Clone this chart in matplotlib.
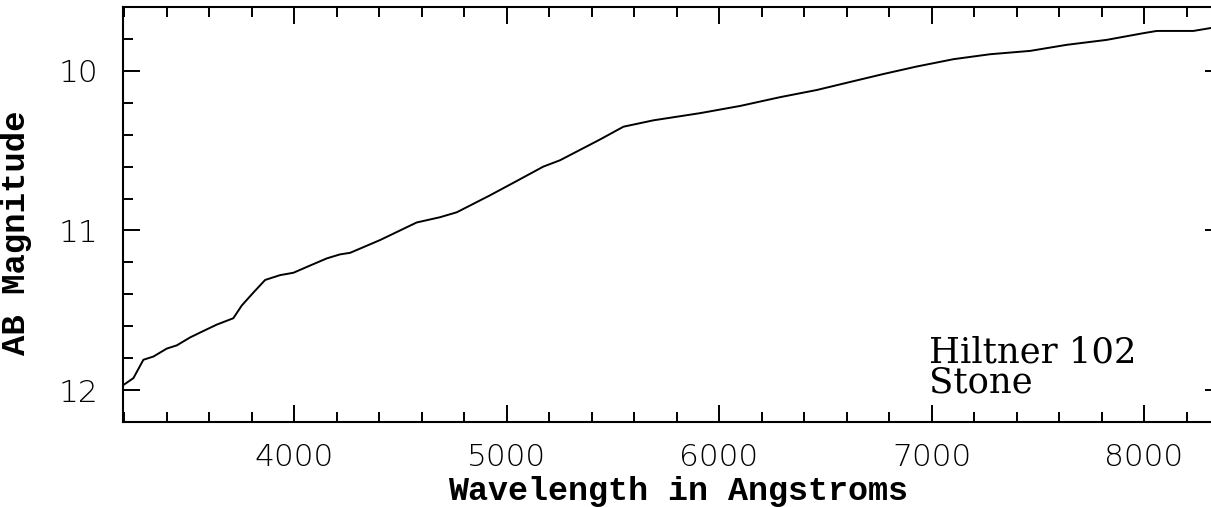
#!/usr/bin/env python3
"""
Hiltner 102 (Stone) spectrophotometric standard: AB magnitude vs wavelength.
"""

import matplotlib
matplotlib.use("Agg")
import matplotlib.pyplot as plt
from matplotlib.ticker import MultipleLocator

# =============================================================================
# Data
# =============================================================================

WAVELENGTH = [
    3195, 3244, 3291, 3338, 3401, 3448, 3511, 3573, 3636, 3714,
    3754, 3808, 3864, 3934, 3997, 4075, 4154, 4216, 4264, 4405,
    4577, 4687, 4766, 4922, 5048, 5173, 5252, 5440, 5550, 5691,
    5911, 6099, 6287, 6460, 6616, 6773, 6930, 7103, 7275, 7464,
    7636, 7824, 7997, 8060, 8232, 8367,
]
AB_MAG = [
    11.97, 11.925, 11.81, 11.79, 11.74, 11.72, 11.67, 11.63, 11.59, 11.55,
    11.47, 11.39, 11.31, 11.28, 11.265, 11.22, 11.175, 11.15, 11.14, 11.06,
    10.95, 10.917, 10.886, 10.78, 10.69, 10.60, 10.56, 10.43, 10.35, 10.31,
    10.265, 10.22, 10.165, 10.12, 10.07, 10.02, 9.973, 9.927, 9.896, 9.875,
    9.837, 9.806, 9.764, 9.75, 9.75, 9.72,
]

LABEL_LINES = ["Hiltner 102", "Stone"]

# =============================================================================
# Plot
# =============================================================================

SERIF = "DejaVu Serif"
LABEL_FONT = "Liberation Mono"
TICK_FONT = "DejaVu Sans"

fig = plt.figure(figsize=(12.11, 5.07), dpi=100)
ax = fig.add_axes([123 / 1211, 85 / 507, 1099 / 1211, 415 / 507])

ax.plot(WAVELENGTH, AB_MAG, color="black", linewidth=1.4)

ax.set_xlim(3195, 8367)
ax.set_ylim(12.2, 9.6)

ax.xaxis.set_major_locator(MultipleLocator(1000))
ax.xaxis.set_minor_locator(MultipleLocator(200))
ax.yaxis.set_major_locator(MultipleLocator(1))
ax.yaxis.set_minor_locator(MultipleLocator(0.2))

ax.tick_params(which="both", direction="in", top=True, right=True,
               width=1.4, color="black")
ax.tick_params(which="major", length=12)
ax.tick_params(which="minor", length=7)
ax.tick_params(axis="x", which="major", pad=15)
ax.tick_params(axis="y", which="major", pad=18)
for lab in ax.get_xticklabels() + ax.get_yticklabels():
    lab.set_fontfamily(TICK_FONT)
    lab.set_fontsize(22.5)
    lab.set_fontweight("light")

for spine in ax.spines.values():
    spine.set_linewidth(1.5)

ax.set_xlabel("Wavelength in Angstroms", fontfamily=LABEL_FONT,
              fontsize=24, fontweight="bold")
ax.xaxis.set_label_coords(0.505, -0.13)
ax.set_ylabel("AB Magnitude", fontfamily=LABEL_FONT,
              fontsize=24.5, fontweight="bold")
ax.yaxis.set_label_coords(-0.083, 0.455)

ax.text(6990, 12.0125, "\n".join(LABEL_LINES), fontfamily=SERIF,
        fontsize=25.5, ha="left", va="baseline", linespacing=0.82)

fig.savefig("out.png", dpi=100)
